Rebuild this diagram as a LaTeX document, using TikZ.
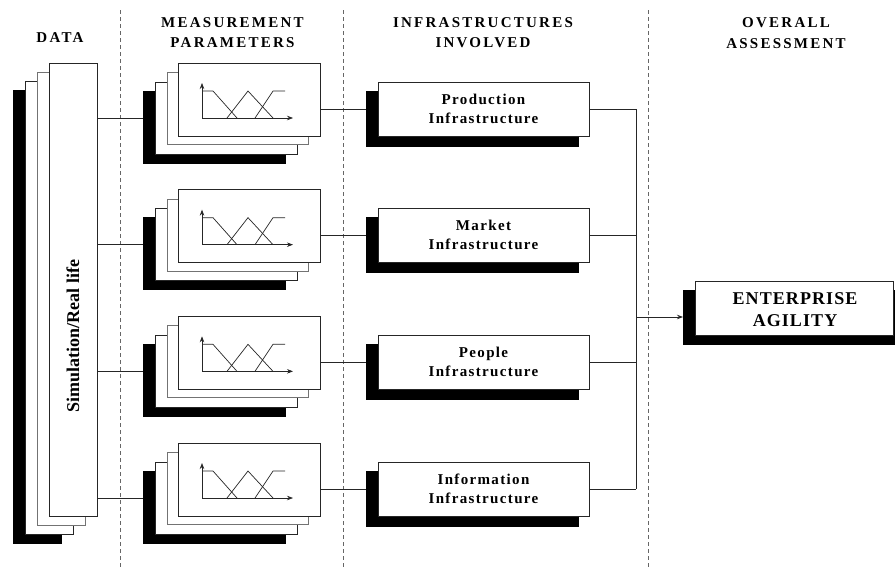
\documentclass[tikz,border=0pt]{standalone}
\usepackage{fontspec}
\setmainfont{Liberation Serif}
\newfontfamily\headfont[LetterSpace=15]{Liberation Serif}
\newfontfamily\infrafont[LetterSpace=9]{Liberation Serif}
\newfontfamily\entfont[LetterSpace=6]{Liberation Serif}
\usetikzlibrary{arrows.meta,calc}
\begin{document}
\begin{tikzpicture}[x=1pt,y=-1pt,
  every node/.style={inner sep=0pt,outer sep=0pt},
  frame/.style={draw=black!85,line width=0.9pt,fill=white},
  shadowbox/.style={fill=black,draw=black,line width=0.9pt},
  divider/.style={draw=black!60,line width=0.9pt,dash pattern=on 4pt off 3pt},
  wire/.style={draw=black!85,line width=0.9pt},
  mf/.style={draw=black!85,line width=0.7pt},
  tip/.style={-{Stealth[length=6pt,width=4.5pt]}},
  heading/.style={font=\headfont\bfseries\fontsize{15}{20.5}\selectfont,align=center},
  infralabel/.style={font=\infrafont\bfseries\fontsize{15}{19}\selectfont,align=center},
]
\clip (0,0) rectangle (895,568);
\fill[white] (0,0) rectangle (895,568);

% column dividers
\draw[divider] (120,10) -- (120,568);
\draw[divider] (343,10) -- (343,568);
\draw[divider] (648,10) -- (648,568);

% headings
\node[heading] (hdata) at (60,38) {DATA};
\node[heading] (hmeas) at (232.5,32.5) {MEASUREMENT\\PARAMETERS};
\node[heading] (hinfra) at (483,32.5) {INFRASTRUCTURES\\INVOLVED};
\node[heading] (hover) at (786,33) {OVERALL\\ASSESSMENT};

% data stack
\node[shadowbox,minimum width=48pt,minimum height=453pt] (datak) at (37,316.5) {};
\node[frame,minimum width=48pt,minimum height=453pt] (data3) at (49,307.5) {};
\node[frame,draw=black!55,minimum width=48pt,minimum height=453pt] (data2) at (61,298.5) {};
\node[frame,minimum width=48pt,minimum height=453pt] (data) at (73,289.5) {};
\node[rotate=90,font=\bfseries\fontsize{18}{20}\selectfont] (datatext) at (73,336) {Simulation/Real life};

% measurement stacks and infrastructure boxes
\foreach \i/\lab in {1/{Production\\Infrastructure},2/{Market\\Infrastructure},3/{People\\Infrastructure},4/{Information\\Infrastructure}}{
  \pgfmathsetmacro{\fy}{63+126.67*(\i-1)}
  \begin{scope}[shift={(0,\fy)}]
    \node[shadowbox,minimum width=142pt,minimum height=72pt] (m\i k) at (214,64) {};
    \node[frame,minimum width=142pt,minimum height=72pt] (m\i c) at (226,55) {};
    \node[frame,draw=black!55,minimum width=141pt,minimum height=72pt] (m\i b) at (237.5,45.5) {};
    \node[frame,minimum width=142pt,minimum height=73pt] (m\i) at (249,36.5) {};
    \coordinate (m\i o) at (202,55);
    \coordinate (m\i y) at (202,20);
    \coordinate (m\i x) at (293,55);
    \draw[mf,tip] (m\i o) -- (m\i y);
    \draw[mf,tip] (m\i o) -- (m\i x);
    \draw[mf] (202,28) -- (213,28) -- (237,55);
    \draw[mf] (227,55) -- (248,28) -- (273,55);
    \draw[mf] (255,55) -- (273,28) -- (285,28);
    % infrastructure box
    \node[shadowbox,minimum width=212pt,minimum height=55pt] (i\i s) at (472,55.5) {};
    \node[frame,minimum width=211pt,minimum height=54pt] (i\i) at (483.5,46) {};
    \node[infralabel] (i\i t) at (483.5,45.5) {\lab};
  \end{scope}
  \draw[wire] (data.east |- m\i o) -- (m\i k.west |- m\i o);
  \draw[wire] (m\i.east |- i\i) -- (i\i s.west |- i\i);
}

% bus to overall assessment
\coordinate (bus) at (636,0);
\foreach \i in {1,...,4}{
  \draw[wire] (i\i.east) -- (i\i.east -| bus);
}
\draw[wire] (i1.east -| bus) -- (i4.east -| bus);

\node[shadowbox,minimum width=220pt,minimum height=54pt] (ents) at (793,317) {};
\node[frame,minimum width=198pt,minimum height=54pt] (ent) at (794,308) {};
\node[font=\entfont\bfseries\fontsize{18}{22}\selectfont,align=center] (enttext) at (795,310) {ENTERPRISE\\AGILITY};
\draw[wire,tip] (ents.west -| bus) -- (ents.west);
\end{tikzpicture}
\end{document}
